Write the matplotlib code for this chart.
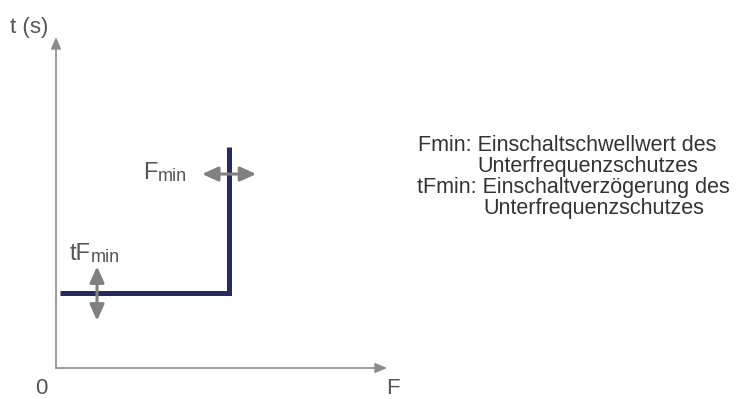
import matplotlib
matplotlib.use("Agg")
import matplotlib.pyplot as plt

plt.rcParams['font.family'] = ['Liberation Sans', 'DejaVu Sans']

# characteristic (relative units, axes run 0..1)
curve_f = [0.012, 0.523, 0.523]
curve_t = [0.227, 0.227, 0.668]
f_min = 0.523
f_min_arrow_t = 0.586
t_fmin = 0.225
t_fmin_arrow_f = 0.124
arrow_half = 0.082

legend_lines = ["Fmin: Einschaltschwellwert des", "Unterfrequenzschutzes",
                "tFmin: Einschaltverzögerung des", "Unterfrequenzschutzes"]

W, H = 736, 399
fig = plt.figure(figsize=(W / 100, H / 100), dpi=100)

def fx(x):
    return x / W

def fy(y):
    return 1 - y / H

# axes placed so origin at (56,368) px, arrow tips at 387 / 37 px
ax = fig.add_axes([fx(56), fy(368), (387 - 56) / W, (368 - 37) / H])
ax.set_xlim(0, 1)
ax.set_ylim(0, 1)
ax.axis('off')

axis_col = '#8c8c8c'
arr_col = '#808080'
lab_col = '#555555'

# coordinate axes with arrows
for tip in [(1, 0), (0, 1)]:
    ax.annotate('', xy=tip, xytext=(0, 0),
                arrowprops=dict(arrowstyle='-|>,head_length=0.7,head_width=0.3',
                                mutation_scale=10, color=axis_col, lw=1.2,
                                shrinkA=0, shrinkB=0), annotation_clip=False)

# tripping characteristic
ax.plot(curve_f, curve_t, color='#252b5c', lw=3.6, solid_joinstyle='miter',
        solid_capstyle='butt', clip_on=False)

# double arrows
astyle = '<|-|>,head_length=0.8,head_width=0.36'
ax.annotate('', xy=(f_min + arrow_half, f_min_arrow_t),
            xytext=(f_min - arrow_half, f_min_arrow_t),
            arrowprops=dict(arrowstyle=astyle, mutation_scale=12, color=arr_col,
                            lw=2.2, shrinkA=0, shrinkB=0), annotation_clip=False)
ax.annotate('', xy=(t_fmin_arrow_f, t_fmin + arrow_half),
            xytext=(t_fmin_arrow_f, t_fmin - arrow_half),
            arrowprops=dict(arrowstyle=astyle, mutation_scale=12, color=arr_col,
                            lw=2.2, shrinkA=0, shrinkB=0), annotation_clip=False)

# axis labels
fig.text(fx(10), fy(33), 't (s)', fontsize=16, color=lab_col, va='baseline')
fig.text(fx(41), fy(399), '0', fontsize=16, color=lab_col, va='bottom', ha='center')
fig.text(fx(393), fy(399), 'F', fontsize=16, color=lab_col, va='bottom', ha='center')

# F_min / tF_min labels with small "min"
def label(x, y, big):
    t = fig.text(fx(x), fy(y), big, fontsize=17, color=lab_col, va='baseline')
    ax.annotate('min', xy=(1, 0), xycoords=t, xytext=(0, -0.5),
                textcoords='offset points', fontsize=13, color=lab_col,
                va='bottom', ha='left')

label(143, 179, 'F')
label(70, 260, 'tF')

# explanation text
legend_pos = [(418, 151), (477, 172), (417, 193), (483, 214)]
for s, (x, y) in zip(legend_lines, legend_pos):
    fig.text(fx(x), fy(y), s, fontsize=15.5, color='#333333', va='baseline')

fig.savefig('out.png', dpi=100)
